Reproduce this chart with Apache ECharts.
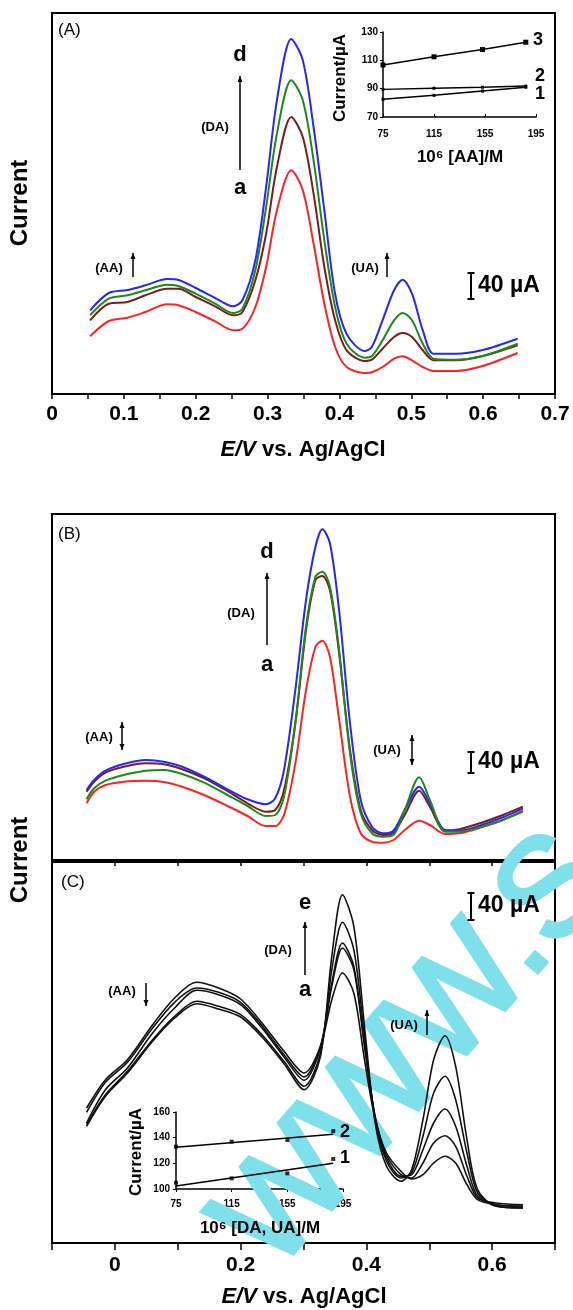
<!DOCTYPE html>
<html>
<head>
<meta charset="utf-8">
<script src="https://cdn.jsdelivr.net/npm/echarts@6.0.0/dist/echarts.min.js"></script>
<style>
html, body { margin: 0; padding: 0; background: #fff; }
#chart { width: 573px; height: 1310px; }
</style>
</head>
<body>
<div id="chart"></div>
<script>
// ---- panel A : potential (V) and current (read in px-height units, 26.7 units = 40 uA)
var potA = [0.053, 0.079, 0.105, 0.13, 0.16, 0.176, 0.20, 0.227, 0.252, 0.265, 0.283, 0.298, 0.313, 0.333, 0.349,
	0.364, 0.379, 0.394, 0.41, 0.435, 0.445, 0.46, 0.476, 0.488, 0.501, 0.516, 0.531, 0.562, 0.598, 0.648];
var curA_a = [59.7, 75, 78.3, 84, 91.7, 90.7, 84, 74.7, 65.7, 67.3, 89, 129, 185.7, 225.7, 205.7,
	152.3, 92.3, 49, 29, 23, 23.7, 29, 37.3, 39.7, 35.7, 29, 25, 25, 29.7, 43];
var curA_b = [75.7, 92.3, 94, 100.7, 107.3, 107.3, 99, 89.7, 80.7, 84, 115.7, 162.3, 229, 279, 259,
	202.3, 129, 75.7, 45.7, 35, 36.3, 47.3, 59, 63, 59, 45.7, 35.7, 35.7, 39.7, 50.7];
var curA_c = [80.7, 97.3, 100.7, 105.7, 111.3, 110, 102.3, 92.3, 83, 87.3, 125.7, 189, 262.3, 315.7, 295.7,
	235.7, 155.7, 89, 52.3, 38.3, 39.7, 55.7, 75.7, 83, 75.7, 52.3, 37.3, 36.3, 39.7, 52.3];
var curA_d = [85.7, 103, 106, 110.7, 117, 116, 108, 98, 89.7, 95.7, 135.7, 209, 295.7, 357, 335.7,
	269, 185.7, 102, 62, 45, 49, 75.7, 105.7, 116.3, 102.3, 65.7, 42.3, 42.3, 45.7, 57.3];

// inset A : 10^6 [AA]/M vs current/uA
var insetAConc = [75, 115, 153, 187];
var insetA_1 = [82.5, 85.3, 88.3, 91];
var insetA_2 = [89.5, 90.3, 91, 91.8];
var insetA_3 = [106.7, 112.5, 117.6, 122.8];

// ---- panel B
var potB = [-0.045, -0.033, -0.015, 0.014, 0.049, 0.078, 0.107, 0.142, 0.176, 0.211, 0.240, 0.255, 0.269, 0.287,
	0.304, 0.319, 0.330, 0.342, 0.356, 0.374, 0.391, 0.409, 0.426, 0.443, 0.461, 0.484, 0.501, 0.525, 0.548, 0.583, 0.617, 0.649];
var curB_a = [56.7, 68.3, 75, 78.3, 79.3, 78, 73.3, 65, 55, 44, 34, 34, 45, 96.7,
	170, 213.3, 219.3, 203.3, 143.3, 63.3, 26.7, 18.3, 17.3, 20, 30, 39.3, 35, 26, 26.7, 32.7, 40, 49.3];
var curB_b = [68.3, 78.3, 87.3, 93.3, 96.7, 95.7, 90.7, 81.7, 70, 56.7, 48.3, 50, 70, 136.7,
	230, 280, 284, 270, 210, 110, 50, 30, 25, 27.3, 45, 69.3, 53.3, 29.3, 30.7, 37.3, 45, 53.3];
var curB_c = [60.7, 71.7, 79.3, 85, 89.3, 90, 86, 77.3, 66, 54, 44, 45, 63.3, 136.7,
	233.3, 283.3, 288.3, 273.3, 213.3, 106.7, 46.7, 26.7, 23.3, 25, 50, 82.7, 60, 28.3, 28.3, 33.3, 40, 48.3];
var curB_d = [70, 80, 89.3, 96, 100, 98.3, 93.3, 83.3, 71.7, 60.7, 55.7, 61.7, 90, 170,
	260, 313.3, 330.7, 316.7, 253.3, 136.7, 60, 33.3, 26.7, 29.3, 50, 73.3, 56.7, 30, 29.3, 35, 42.7, 51.7];

// ---- panel C
var potC = [-0.045, -0.015, 0.020, 0.060, 0.095, 0.130, 0.165, 0.200, 0.234, 0.269, 0.301, 0.327, 0.345, 0.362,
	0.380, 0.397, 0.414, 0.432, 0.455, 0.472, 0.490, 0.507, 0.525, 0.542, 0.560, 0.577, 0.606, 0.649];
var curC_a = [135, 163.3, 183.3, 218.3, 245, 260.7, 255, 244, 220, 191.7, 170, 196.7, 243.3, 270,
	250, 183.3, 123.3, 90, 71.7, 64, 68.3, 80, 86.7, 80, 58.3, 43.3, 38.3, 36.7];
var curC_b = [130.7, 160.7, 180.7, 215, 240.7, 255, 250.7, 240.7, 217.3, 188.3, 166, 196.7, 256.7, 295,
	273.3, 196.7, 126.7, 88.3, 68.3, 65, 80, 100, 107.3, 96.7, 66.7, 45, 40, 38.3];
var curC_c = [120, 153.3, 175, 210, 235, 252.7, 248.3, 238.3, 215, 186, 162.7, 195, 260, 300,
	276.7, 198.3, 125, 85, 66.7, 68.3, 93.3, 120, 134, 116.7, 76.7, 46.7, 38.3, 36.7];
var curC_d = [118.3, 148.3, 171.7, 203.3, 226.7, 241.7, 236.7, 228.3, 208.3, 181.7, 156.7, 190, 273.3, 320.7,
	293.3, 206.7, 123.3, 81.7, 65, 70, 106.7, 150, 166.7, 143.3, 90, 50, 37.3, 35];
var curC_e = [116.7, 146.7, 170, 201.7, 225, 239.3, 234, 226, 206, 179.3, 153.3, 186.7, 286.7, 348.3,
	316.7, 216.7, 120, 76.7, 61.7, 73.3, 123.3, 183.3, 207.3, 176.7, 103.3, 53.3, 36.7, 35];

// inset C : 10^6 [DA, UA]/M vs current/uA
var insetCConc = [75, 115, 155, 188];
var insetC_1 = [104.9, 108.3, 112.2, 123.4];
var insetC_2 = [133, 136.9, 138.2, 145.2];
var fitConc = [75, 188];
var fitC_1 = [102.3, 120];
var fitC_2 = [132.6, 142.6];

var FONT = '"Liberation Sans", Arial, sans-serif';
var colors = { a: '#ff2222', b: '#7c1c1c', c: '#1b8a1b', d: '#2626ff' };

function zip(xs, ys) {
	return xs.map(function (x, i) { return [x, ys[i]]; });
}

function curve(grid, xs, ys, color, width) {
	return {
		type: 'line', xAxisIndex: grid, yAxisIndex: grid, data: zip(xs, ys),
		showSymbol: false, smooth: 0.3, lineStyle: { color: color, width: width }, z: 3
	};
}

function insetLine(grid, xs, ys, size) {
	return {
		type: 'line', xAxisIndex: grid, yAxisIndex: grid, data: zip(xs, ys),
		symbol: size ? 'rect' : 'none', symbolSize: size, showSymbol: !!size,
		itemStyle: { color: '#000' }, lineStyle: { color: '#000', width: 1.5 }, z: 4
	};
}

function insetDots(grid, xs, ys) {
	return {
		type: 'scatter', xAxisIndex: grid, yAxisIndex: grid, data: zip(xs, ys),
		symbol: 'rect', symbolSize: 4, itemStyle: { color: '#000' }, z: 4
	};
}

function txt(text, x, y, size, extra) {
	var el = {
		type: 'text', x: x, y: y, z: 10,
		style: {
			text: text, font: 'bold ' + size + 'px ' + FONT, fill: '#000',
			textAlign: 'center', textVerticalAlign: 'middle'
		}
	};
	if (extra) {
		for (var k in extra) {
			if (k === 'style') Object.assign(el.style, extra.style);
			else el[k] = extra[k];
		}
	}
	return el;
}

// vertical arrow, head at yTo (and at yFrom too when both)
function arrow(x, yFrom, yTo, both) {
	var els = [{
		type: 'line', z: 10,
		shape: { x1: x, y1: yFrom, x2: x, y2: yTo },
		style: { stroke: '#000', lineWidth: 1.5 }
	}];
	function head(y, dir) {
		return {
			type: 'polygon', z: 10,
			shape: { points: [[x - 2.5, y + 6 * dir], [x + 2.5, y + 6 * dir], [x, y]] },
			style: { fill: '#000' }
		};
	}
	els.push(head(yTo, yFrom > yTo ? 1 : -1));
	if (both) els.push(head(yFrom, yFrom > yTo ? -1 : 1));
	return els;
}

function scaleBar(x, y1, y2, labelY) {
	return [
		{ type: 'line', z: 10, shape: { x1: x, y1: y1, x2: x, y2: y2 }, style: { stroke: '#000', lineWidth: 2 } },
		{ type: 'line', z: 10, shape: { x1: x - 3.5, y1: y1, x2: x + 3.5, y2: y1 }, style: { stroke: '#000', lineWidth: 2 } },
		{ type: 'line', z: 10, shape: { x1: x - 3.5, y1: y2, x2: x + 3.5, y2: y2 }, style: { stroke: '#000', lineWidth: 2 } },
		txt('40 µA', x + 7, labelY, 23, { style: { textAlign: 'left' } })
	];
}

var tickLabel = { color: '#000', fontSize: 21, fontWeight: 'bold', fontFamily: FONT };
var smallLabel = { color: '#000', fontSize: 10, fontWeight: 'bold', fontFamily: FONT };
var blackLine = { show: true, lineStyle: { color: '#000', width: 2 } };
var thinLine = { show: true, lineStyle: { color: '#000', width: 1.5 } };

var grids = [
	{ left: 52, top: 13, width: 503, height: 381, show: true, borderColor: '#000', borderWidth: 2 },
	{ left: 383, top: 32, width: 153, height: 85 },
	{ left: 52, top: 514, width: 503, height: 348, show: true, borderColor: '#000', borderWidth: 2 },
	{ left: 52, top: 862, width: 503, height: 381, show: true, borderColor: '#000', borderWidth: 2 },
	{ left: 176, top: 1112, width: 167, height: 77 }
];

var xAxes = [
	{
		gridIndex: 0, type: 'value', min: 0, max: 0.7, interval: 0.05,
		axisLine: blackLine, axisTick: { length: 5, lineStyle: { color: '#000', width: 1.5 } },
		axisLabel: Object.assign({
			margin: 10,
			formatter: function (v) { return Math.round(v * 100) % 10 === 0 ? String(+v.toFixed(1)) : ''; }
		}, tickLabel),
		splitLine: { show: false }
	},
	{
		gridIndex: 1, type: 'value', min: 75, max: 195, interval: 40,
		axisLine: thinLine, axisTick: { inside: true, length: 3, lineStyle: { color: '#000' } },
		axisLabel: Object.assign({ margin: 12 }, smallLabel), splitLine: { show: false }
	},
	{
		gridIndex: 2, type: 'value', min: -0.1, max: 0.7, interval: 0.1,
		axisLine: blackLine, axisTick: { length: 6, lineStyle: { color: '#000', width: 1.5 } },
		axisLabel: { show: false }, splitLine: { show: false }
	},
	{
		gridIndex: 3, type: 'value', min: -0.1, max: 0.7, interval: 0.1,
		axisLine: blackLine, axisTick: { length: 7, lineStyle: { color: '#000', width: 1.5 } },
		axisLabel: Object.assign({
			margin: 12,
			formatter: function (v) {
				var k = Math.round(v * 10);
				return (k >= 0 && k <= 6 && k % 2 === 0) ? String(k / 10) : '';
			}
		}, tickLabel),
		splitLine: { show: false }
	},
	{
		gridIndex: 4, type: 'value', min: 75, max: 195, interval: 40,
		axisLine: thinLine, axisTick: { length: 3, lineStyle: { color: '#000' } },
		axisLabel: Object.assign({ margin: 10 }, smallLabel), splitLine: { show: false }
	}
];

var yAxes = [
	{ gridIndex: 0, type: 'value', min: 2, max: 383, show: false },
	{
		gridIndex: 1, type: 'value', min: 70, max: 130, interval: 20,
		axisLine: thinLine, axisTick: { show: true, length: 3, lineStyle: { color: '#000' } },
		axisLabel: Object.assign({ margin: 5 }, smallLabel), splitLine: { show: false }
	},
	{ gridIndex: 2, type: 'value', min: -2, max: 346, show: false },
	{ gridIndex: 3, type: 'value', min: 0, max: 381, show: false },
	{
		gridIndex: 4, type: 'value', min: 100, max: 160, interval: 20,
		axisLine: thinLine, axisTick: { show: true, length: 3, lineStyle: { color: '#000' } },
		axisLabel: Object.assign({ margin: 6 }, smallLabel), splitLine: { show: false }
	}
];

var series = [
	curve(0, potA, curA_a, colors.a, 2),
	curve(0, potA, curA_b, colors.b, 2),
	curve(0, potA, curA_c, colors.c, 2),
	curve(0, potA, curA_d, colors.d, 2),
	insetLine(1, insetAConc, insetA_1, 3),
	insetLine(1, insetAConc, insetA_2, 3),
	insetLine(1, insetAConc, insetA_3, 5),
	curve(2, potB, curB_a, colors.a, 2),
	curve(2, potB, curB_b, colors.b, 2),
	curve(2, potB, curB_d, colors.d, 2),
	curve(2, potB, curB_c, colors.c, 2),
	curve(3, potC, curC_a, '#111', 1.6),
	curve(3, potC, curC_b, '#111', 1.6),
	curve(3, potC, curC_c, '#111', 1.6),
	curve(3, potC, curC_d, '#111', 1.6),
	curve(3, potC, curC_e, '#111', 1.6),
	insetLine(4, fitConc, fitC_1, 0),
	insetLine(4, fitConc, fitC_2, 0),
	insetDots(4, insetCConc, insetC_1),
	insetDots(4, insetCConc, insetC_2)
];

var axisTitle = {
	text: '{i|E/V} vs. Ag/AgCl',
	rich: { i: { fontStyle: 'italic', fontWeight: 'bold', fontSize: 22, fontFamily: FONT } }
};

var elements = [
	// watermark
	{
		type: 'text', x: 245, y: 1250, rotation: 0.855, z: 1,
		style: {
			text: 'WWW.S', font: '140px ' + FONT, fill: '#7ee0ea',
			stroke: '#7ee0ea', lineWidth: 4, textVerticalAlign: 'middle'
		}
	},
	// axis titles
	txt('Current', 20, 203, 24, { rotation: Math.PI / 2 }),
	txt('Current', 20, 860, 24, { rotation: Math.PI / 2 }),
	txt('', 303, 450, 22, { style: axisTitle }),
	txt('', 304, 1297, 22, { style: axisTitle }),
	// panel A
	txt('(A)', 58, 30, 17, { style: { textAlign: 'left', font: '17px ' + FONT } }),
	txt('d', 240, 55, 22),
	txt('(DA)', 215, 127, 13),
	txt('a', 240, 188, 22),
	txt('(AA)', 109, 268, 13),
	txt('(UA)', 365, 268, 13),
	txt('3', 538, 40, 18),
	txt('2', 540, 76, 18),
	txt('1', 540, 94, 18),
	txt('Current/µA', 340, 78, 17, { rotation: Math.PI / 2 }),
	txt('10⁶ [AA]/M', 460, 157, 17),
	// panel B
	txt('(B)', 58, 534, 17, { style: { textAlign: 'left', font: '17px ' + FONT } }),
	txt('d', 267, 552, 22),
	txt('(DA)', 241, 613, 13),
	txt('a', 267, 665, 22),
	txt('(AA)', 99, 737, 13),
	txt('(UA)', 387, 750, 13),
	// panel C
	txt('(C)', 61, 882, 17, { style: { textAlign: 'left', font: '17px ' + FONT } }),
	txt('e', 305, 903, 22),
	txt('(DA)', 278, 950, 13),
	txt('a', 305, 990, 22),
	txt('(AA)', 122, 991, 13),
	txt('(UA)', 404, 1025, 13),
	txt('2', 345, 1132, 18),
	txt('1', 345, 1158, 18),
	txt('Current/µA', 136, 1152, 17, { rotation: Math.PI / 2 }),
	txt('10⁶ [DA, UA]/M', 260, 1228, 17)
].concat(
	arrow(240, 170, 76),
	arrow(133, 277, 253),
	arrow(387, 277, 253),
	scaleBar(471, 273, 299, 286),
	arrow(267, 645, 573),
	arrow(122, 722, 750, true),
	arrow(412, 735, 765, true),
	scaleBar(471, 752, 773, 762),
	arrow(305, 975, 922),
	arrow(146, 983, 1006),
	arrow(427, 1035, 1010),
	scaleBar(471, 893, 920, 906)
);

var chart = echarts.init(document.getElementById('chart'), null, { renderer: 'canvas' });
chart.setOption({
	animation: false,
	backgroundColor: '#fff',
	grid: grids,
	xAxis: xAxes,
	yAxis: yAxes,
	series: series,
	graphic: { elements: elements }
});
</script>
</body>
</html>
